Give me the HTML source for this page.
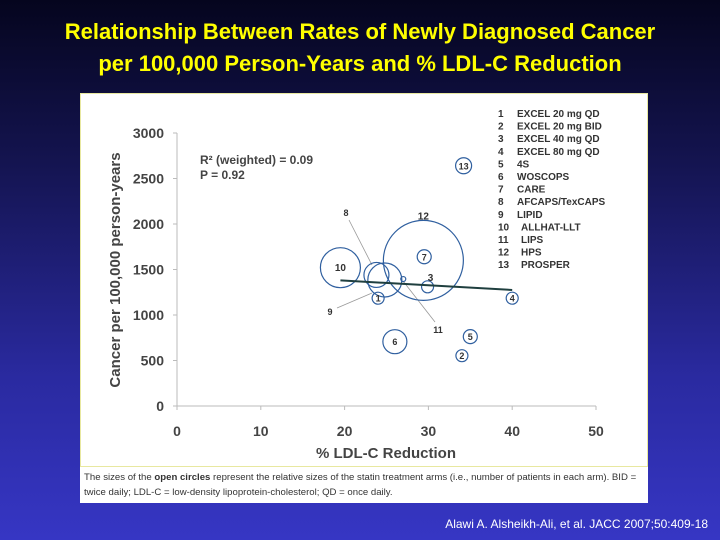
<!DOCTYPE html>
<html><head><meta charset="utf-8"><style>
html,body{margin:0;padding:0}
body{width:720px;height:540px;overflow:hidden;background:linear-gradient(#05051e 0%,#141450 30%,#2a2aa0 70%,#3636c4 100%);font-family:"Liberation Sans",sans-serif;position:relative}
.t{position:absolute;left:0;width:720px;text-align:center;color:#ffff00;font-weight:bold;font-size:22px;line-height:32px}
#panel{position:absolute;left:80px;top:93px;width:568px;height:410px;background:#fff;border:1px solid #e8e8a0;box-sizing:border-box}
#cap{position:absolute;left:80px;top:466px;width:568px;height:37px;border-top:1px solid #e8e8a0;background:#fff;font-size:9.6px;color:#333;padding:3px 4px;box-sizing:border-box;line-height:15px}
#cite{position:absolute;right:12px;top:517px;color:#fff;font-size:12px}
svg{position:absolute;left:0;top:0}
</style></head><body>
<div class="t" style="top:16px">Relationship Between Rates of Newly Diagnosed Cancer</div>
<div class="t" style="top:48px">per 100,000 Person-Years and % LDL-C Reduction</div>
<div id="panel"></div>
<div id="cap">The sizes of the <b>open circles</b> represent the relative sizes of the statin treatment arms (i.e., number of patients in each arm). BID = twice daily; LDL-C = low-density lipoprotein-cholesterol; QD = once daily.</div>
<div id="cite">Alawi A. Alsheikh-Ali, et al. JACC 2007;50:409-18</div>
<svg id="chart" width="720" height="540"></svg>
<script>
const ids=[1,2,3,4,5,6,7,8,9,10,11,12,13];
const xs=[24,34,29.9,40,35,26,29.5,23.8,24.8,19.5,27,29.4,34.2];
const ys=[1185,553,1310,1185,762,707,1640,1440,1385,1520,1395,1600,2640];
const sizes=[6,6,6,6,7,12,7,12.5,17,20,2.5,40,8];
const names=["EXCEL 20 mg QD","EXCEL 20 mg BID","EXCEL 40 mg QD","EXCEL 80 mg QD","4S","WOSCOPS","CARE","AFCAPS/TexCAPS","LIPID","ALLHAT-LLT","LIPS","HPS","PROSPER"];
const xTicks=[0,10,20,30,40,50];
const yTicks=[0,500,1000,1500,2000,2500,3000];
const fitX=[19.5,40];const fitY=[1380,1275];
const NS="http://www.w3.org/2000/svg";
const svg=document.getElementById('chart');
const X=v=>177+v*(596-177)/50;
const Y=v=>406-v*(406-133)/3000;
function mk(tag,a,txt){const e=document.createElementNS(NS,tag);for(const k in a)e.setAttribute(k,a[k]);if(txt!=null)e.textContent=txt;svg.appendChild(e);return e;}
let e;
e=mk('line',{x1:X(0),y1:Y(0),x2:X(50),y2:Y(0),stroke:'#bbb'});


e=mk('line',{x1:X(0),y1:Y(0),x2:X(0),y2:Y(3000),stroke:'#bbb'});


xTicks.forEach(t=>{mk('line',{x1:X(t),y1:Y(0),x2:X(t),y2:Y(0)+4,stroke:'#bbb'});
e=mk('text',{x:X(t),y:436,'text-anchor':'middle','font-size':14,'font-weight':'bold',fill:'#444'},t);

});
yTicks.forEach(t=>{mk('line',{x1:X(0)-4,y1:Y(t),x2:X(0),y2:Y(t),stroke:'#bbb'});
e=mk('text',{x:164,y:Y(t)+5,'text-anchor':'end','font-size':14,'font-weight':'bold',fill:'#444'},t);

});
e=mk('text',{x:386,y:458,'text-anchor':'middle','font-size':15,'font-weight':'bold',fill:'#444'},'% LDL-C Reduction');


e=mk('text',{x:0,y:0,transform:'translate(120,270) rotate(-90)','text-anchor':'middle','font-size':15,'font-weight':'bold',fill:'#444'},'Cancer per 100,000 person-years');


e=mk('text',{x:200,y:164,'font-size':12,'font-weight':'bold',fill:'#444'},'R² (weighted) = 0.09');


e=mk('text',{x:200,y:179,'font-size':12,'font-weight':'bold',fill:'#444'},'P = 0.92');


// leader lines
mk('line',{x1:349,y1:220,x2:372,y2:265,stroke:'#999','stroke-width':0.8});
mk('line',{x1:337,y1:308,x2:372,y2:293,stroke:'#999','stroke-width':0.8});
mk('line',{x1:435,y1:322,x2:403,y2:281,stroke:'#999','stroke-width':0.8});
ids.forEach((id,i)=>{
 e=mk('circle',{cx:X(xs[i]),cy:Y(ys[i]),r:sizes[i],fill:'none',stroke:'#2f5f9f','stroke-width':1.2});
 
 
});
const inLabel={1:1,2:1,4:1,5:1,6:1,7:1,10:1,13:1};
ids.forEach((id,i)=>{
 let lx=X(xs[i]),ly=Y(ys[i])+3.5;
 if(id===3){ly=Y(ys[i])-6;lx+=3;}
 else if(id===12){ly=Y(ys[i])-41;}
 else if(id===8){lx=346;ly=216;}
 else if(id===9){lx=330;ly=315;}
 else if(id===11){lx=438;ly=333;}
 e=mk('text',{x:lx,y:ly,'text-anchor':'middle','font-size':id===3||id===12||id===10?10:9,'font-weight':'bold',fill:'#333'},id);
 
 
});
e=mk('line',{x1:X(fitX[0]),y1:Y(fitY[0]),x2:X(fitX[1]),y2:Y(fitY[1]),stroke:'#1f3f3f','stroke-width':2});


ids.forEach((id,i)=>{
 const yy=117+i*12.6;
 e=mk('text',{x:498,y:yy,'font-size':10,'font-weight':'bold',fill:'#333'},id);
 
 
 e=mk('text',{x:id>=10?521:517,y:yy,'font-size':10,'font-weight':'bold',fill:'#333'},names[i]);
 
 
});
</script>
</body></html>
